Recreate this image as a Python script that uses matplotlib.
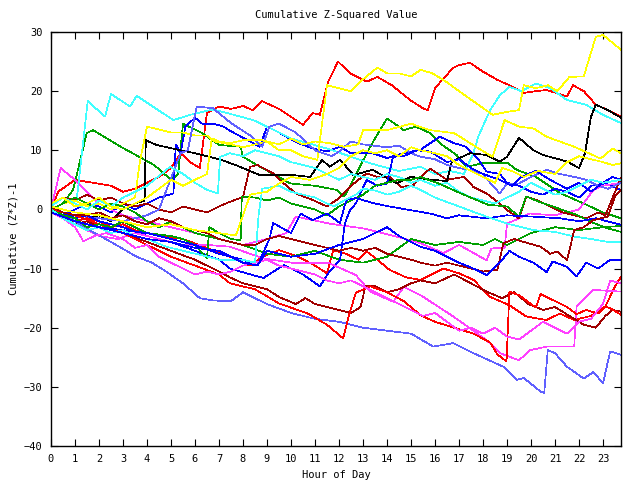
import numpy as np
import matplotlib
matplotlib.use("Agg")
from matplotlib import pyplot as plt

# each series: (hour, cumulative value) pairs
red1 = [(0,0),(0.3,3),(1,5),(1.75,4.5),(2.5,4),(3,3),(3.5,3.5),(4,4.5),(4.5,5.5),(5,7),(5.4,9.5),(5.8,8),
        (6.2,7),(6.5,16.3),(7,17.4),(7.5,17),(8,17.5),(8.4,16.8),(8.8,18.3),(9.5,17),(10.5,14.3),(10.9,16.3),
        (11.2,16),(11.55,21.6),(11.96,25),(12.46,23),(13.15,21.6),(13.6,22.4),(14.2,21),(14.96,18.5),(15.5,17.1),
        (15.7,16.8),(16,20.5),(16.3,21.9),(16.75,23.9),(17,24.4),(17.45,24.8),(18,23.3),(18.6,21.9),(19.1,21),
        (19.7,19.7),(20.2,20),(20.65,20.2),(21.5,19.1),(21.75,21),(22.2,20),(22.7,17.7),(23.1,17),(23.75,15.7)]
red2 = [(0,0.5),(0.5,-1),(1,-2),(1.5,-1.5),(2,-2),(2.5,-3),(3,-2.5),(3.5,-3.5),(4.5,-4.5),(5.5,-5),(6.5,-6.5),
        (7.46,-8),(8.3,-9.5),(8.8,-8),(9.5,-6.9),(10.3,-8),(11,-9.5),(11.5,-10.8),(11.76,-6.9),(12.3,-7.5),
        (12.8,-8.5),(13.15,-7.1),(13.6,-8.5),(14.1,-10.2),(14.8,-11.5),(15.4,-11.9),(16.35,-10),(17,-10.8),
        (17.6,-11.9),(18.3,-14.8),(19.1,-16.2),(19.8,-18.1),(20.65,-18.7),(21.2,-17.6),(21.8,-18.7),(22.5,-18),
        (23.1,-16.4),(23.5,-13),(23.75,-11.4)]
red3 = [(0,0),(1,-1),(2,-2.5),(3,-4),(4,-6),(5,-8),(6,-9.5),(7,-11),(7.46,-12.5),(8.5,-13.5),(9.5,-15.9),
        (10.7,-17.6),(11.5,-19.5),(12.17,-21.8),(12.4,-18.1),(12.7,-14.1),(13.3,-13),(14,-14),(14.7,-15.5),
        (15.4,-17.9),(16,-19),(16.8,-20),(17.6,-21),(18.3,-22.5),(18.6,-24.5),(18.98,-25.7),(19.1,-13.9),
        (19.5,-14.5),(20.2,-16.6),(20.4,-14.3),(20.9,-15.3),(21.5,-16.5),(21.9,-17.7),(22.3,-17),(22.8,-17.6),
        (23.1,-16.4),(23.3,-16.7),(23.75,-17.8)]
green1 = [(0,0),(0.5,1),(0.92,3.3),(1.49,12.9),(1.75,13.4),(2.9,10.6),(3.4,9.5),(4.3,7.5),(5,5),(5.3,6),
          (5.5,14.5),(6.3,12.9),(7,10.9),(7.9,10.6),(8,8.9),(8.8,7),(9.5,5.5),(9.96,4.4),(11,4),(11.9,3.3),
          (12.2,2.2),(12.3,2.7),(13.3,10.6),(14,15.4),(14.7,13.4),(15.2,14),(15.8,12.9),(16.3,10.9),(16.9,9.2),
          (17.3,7.2),(18,7.8),(19.05,7.8),(19.4,6.7),(20.2,5.5),(21.2,2.8),(22.3,0.8),(23,-0.5),(23.75,-1.5)]
green2 = [(0,0),(0.5,1),(1,2),(1.5,1),(2,0),(2.5,1),(3,0.5),(3.5,-0.5),(4,-2),(4.5,-3),(5,-2),(5.5,-3),(6,-4),
          (7,-5),(8,-6),(9,-7.5),(10,-8),(11,-7),(12,-8.5),(13,-9),(14,-8),(15,-5),(16,-6),(17,-5.5),(18,-6),
          (18.5,-5),(19,-6),(20,-4),(21,-3),(22,-3.5),(23,-3),(23.75,-2.8)]
green3 = [(0,0),(0.5,-1),(1,-1.5),(1.5,-3),(2,-2.5),(2.5,-3),(3,-2),(3.5,-3),(4,-4),(5,-4.5),(5.5,-5),(6,-6),
          (6.5,-8.3),(6.6,-3),(7,-4),(7.5,-5),(7.9,-5.2),(7.95,2.2),(8.5,2),(9,1.5),(9.5,2),(10,1),(10.5,0.5),
          (11,0),(11.5,-1),(12,0.5),(12.5,1.5),(13,2.5),(13.5,4),(14,4.5),(14.5,5),(15,5),(15.4,5.5),(16.2,4.3),
          (17.2,2.5),(18.2,0.8),(19,0.5),(19.5,-1.2),(19.8,2.2),(20.2,1.5),(20.9,0.5),(21.9,-0.9),(22.6,-2.3),
          (23.2,-3.2),(23.75,-3.8)]
blue1 = [(0,0),(0.5,-1),(1,0),(1.5,1),(2,0.5),(2.5,-0.5),(3,1),(3.5,0),(4,1),(4.5,2),(5.1,2.7),(5.2,11),
         (5.4,9.5),(5.6,14),(6,15.5),(6.3,14.5),(6.75,14.5),(7.2,14),(7.46,13.3),(8.7,10.6),(9,14),(9.5,13),
         (10.2,11.4),(10.9,10.3),(11.5,9.8),(12.05,10.6),(12.5,9.5),(13.4,9.5),(14,8.7),(14.7,9.5),(15.4,10.1),
         (16.2,12.3),(16.8,11.2),(17.3,10.6),(17.8,8.5),(18.15,6.4),(18.7,6),(19,4.5),(19.5,4),(20,3),(20.5,2.5),
         (21,3.5),(21.5,3),(22,2),(22.5,4),(23.1,4.4),(23.75,3.3)]
blue2 = [(0,0.5),(0.5,-0.5),(1,-1.5),(1.5,-1),(2,-2),(3,-3),(4,-4.5),(5,-5.5),(6,-7),(7,-8.5),(7.46,-10),
         (8.85,-11.6),(9.7,-9.4),(10.5,-11),(11.2,-13),(11.6,-10.5),(12.04,-8.6),(12.25,-2.3),(12.46,-0.1),
         (12.7,1),(13.15,5),(13.6,4),(14,4.4),(14.25,8.9),(14.7,9),(15.2,10),(15.8,9.8),(16.5,8),(17,8.5),
         (17.5,7),(18,6),(18.7,5),(19.2,4),(19.6,5.5),(20.2,6.5),(20.8,5),(21.5,3.5),(22,4.5),(22.5,3),
         (23,4.5),(23.4,5.5),(23.75,5)]
blue3 = [(0,-0.5),(1,-2),(2,-3),(3,-3.5),(4,-4),(5,-5),(6,-6),(7,-7.5),(8,-8.5),(8.6,-9.5),(9.1,-5),
         (9.26,-2.3),(10,-4),(10.4,-0.7),(10.9,-1.8),(11.5,-0.7),(12.04,-2.3),(12.3,1.6),(12.7,1.9),(13.5,1),
         (14.1,0.5),(15.8,-0.7),(16.5,-1.5),(17,-1),(18.15,-1.5),(19,-1),(20,-1.2),(21.2,-1.5),(22,-2),
         (22.7,-1.5),(23.75,-2.6)]
blue4 = [(0,-0.5),(1,-2),(2,-3),(3,-4),(4,-5),(5,-5.5),(6,-6.5),(7,-7),(7.5,-8),(8,-9),(8.6,-9.5),(9,-7),
         (10,-8),(11,-7.5),(12,-6),(13,-5),(13.5,-4),(14,-3),(14.5,-4.5),(15.4,-6.3),(16,-7),(16.5,-8),(17,-9),
         (17.6,-10),(18.15,-11.1),(18.7,-9),(19.1,-7),(19.5,-8),(20.1,-9),(20.65,-10.6),(20.9,-8.8),(21.5,-9.7),
         (21.9,-11.3),(22.3,-9),(22.8,-10),(23.3,-8.5),(23.75,-8.6)]
magenta1 = [(0,0),(0.4,7),(1,5),(1.5,3),(2,1),(3,-1),(4,-2),(5,-3),(6,-4),(7,-5),(8,-6),(9,-5),(9.8,-4),
            (10.2,-1.2),(11.6,-2.4),(13,-3.2),(14.4,-4.6),(15.4,-5.7),(16.35,-7.4),(17,-6),(18.15,-8.6),
            (18.35,-6.6),(18.9,-6.5),(19,-2.4),(19.95,-0.7),(21,-1),(22,0),(22.6,3.3),(23,4),(23.75,4.5)]
magenta2 = [(0,-0.5),(1,-2.5),(2,-4.5),(2.8,-5),(3.5,-4),(4.5,-5),(5.5,-6),(6.5,-6),(7.46,-6.3),(8.85,-8.3),
            (10.2,-9.1),(11.6,-9.1),(12.7,-11.1),(13.3,-13.9),(14.26,-15.6),(14.7,-13.1),(15.4,-14.5),
            (16.76,-18.1),(18.15,-22.1),(18.7,-24.3),(19.5,-25.5),(19.96,-23.8),(20.65,-23.2),(21.8,-23.2),
            (21.9,-16.4),(22.6,-13.6),(23.75,-13.9)]
magenta3 = [(0,0),(0.5,-1.5),(1,-3),(1.35,-5.4),(1.8,-4.5),(2.3,-4),(3,-5),(3.5,-6.5),(4,-6),(4.5,-8),(5,-9),
            (5.5,-10),(6,-11),(6.5,-10.5),(7,-11),(7.5,-10.5),(8,-9.5),(8.5,-9),(9,-8.5),(9.5,-9.5),(10,-10),
            (10.5,-10.5),(11,-11),(11.5,-12),(12,-12.5),(12.5,-12),(13,-13),(13.5,-14),(14,-15),(14.5,-16),
            (15,-17),(15.5,-18),(16,-17.5),(16.5,-19),(17,-20.5),(17.5,-20),(18,-21),(18.5,-20),(19,-21.5),
            (19.5,-22),(20,-20.5),(20.5,-19),(21,-20),(21.5,-21),(22,-19),(22.5,-18.5),(23,-16),(23.3,-12),
            (23.75,-12.5)]
cyan1 = [(0,0),(0.5,1),(1.07,1.6),(1.53,18.3),(2.25,15.7),(2.5,19.5),(3.3,17.4),(3.57,19.2),(5.1,15.1),
         (5.8,16),(6.75,16.9),(7.9,15.7),(8.5,15),(10,12),(11.5,10.3),(13.3,7.8),(14.5,6.5),(15.4,7.2),(16,6),
         (16.6,6.5),(17.2,6),(17.6,9.5),(17.8,12.3),(18.3,16.8),(18.7,19.3),(19.1,20.7),(19.6,20),(20.2,21.3),
         (20.8,20.5),(21.5,18.5),(22.3,17.7),(23,16),(23.75,14.6)]
cyan2 = [(0,0.5),(0.5,2),(1,1),(1.5,0),(2,1.5),(2.5,0.5),(3,2),(3.5,3),(4,4),(4.96,7.2),(5.5,6),(6,4.5),
         (6.5,3.3),(6.95,2.7),(7.05,8.9),(7.46,9.5),(8,9),(8.5,10),(9,9.5),(9.5,9),(10,8),(10.5,7.5),(11,7),
         (11.5,6),(12,5),(12.5,6),(13,5.5),(13.5,5),(14,6),(14.5,5.5),(15,4.5),(15.4,5),(16,4),(16.5,4.5),
         (17,3),(17.5,2),(18,1.5),(18.5,1),(19,2),(19.5,3),(20,4.5),(20.5,3.5),(21,2.5),(21.5,3),(22,4),
         (22.5,5),(23,4.5),(23.75,5)]
cyan3 = [(0,0),(0.5,-1.5),(1,-2.5),(1.5,-3.5),(2,-3),(2.5,-4),(3,-3.5),(3.5,-4.5),(4,-5),(4.8,-6.3),(5.5,-7),
         (6.55,-8),(7,-8.5),(7.5,-8.5),(8,-8.5),(8.5,-9),(8.65,-1),(8.8,3.5),(9.5,4),(10,3),(10.5,2.5),(11,2),
         (11.5,1),(11.8,0.5),(12.2,1.5),(12.7,2.5),(13,3.5),(13.5,3.2),(14,2.5),(14.5,3),(15,4),(15.4,3.3),
         (16,2),(17,0.5),(18,-1),(19,-2.4),(20.1,-3.5),(21,-3.8),(21.8,-4.6),(22.5,-5),(23.2,-5.5),(23.75,-5.5)]
darkred1 = [(0,1),(0.5,2),(1,1.5),(1.5,2.5),(2,1.5),(2.5,2),(3,1),(3.5,0.5),(4,1),(4.5,0),(5,-0.5),(5.5,0.5),
            (6,0),(6.5,-0.5),(7,0.5),(7.46,1.3),(8,2.1),(8.29,7.2),(8.6,7.5),(9.26,6.1),(9.7,4.4),(10.2,2.7),
            (10.9,1.6),(11.5,0.5),(11.9,1.6),(12.5,4),(13.15,6.1),(13.6,5.5),(14.1,5.5),(14.6,3.8),(15.1,4.1),
            (15.4,5.5),(15.8,6.9),(16.5,5),(17.2,5.5),(17.6,3.8),(18.15,2.7),(18.7,1),(19,-0.1),(19.5,-1.5),
            (19.8,2.2),(20.3,1.5),(20.8,0.5),(21.3,-0.5),(21.8,-1),(22.3,-1.5),(22.8,-0.5),(23.1,-1),(23.4,2),
            (23.75,5.3)]
darkred2 = [(0,0),(0.5,-1),(1,-2.5),(1.5,-2),(2,-3),(3,-4),(4,-5.5),(5,-7),(6,-8.5),(7,-10.5),(7.46,-11.5),
            (8,-12.5),(8.5,-13),(9,-13.5),(9.5,-14.8),(10.2,-16),(10.6,-15),(11,-16),(11.5,-16.5),(12,-17),
            (12.5,-17.5),(12.9,-16.5),(13.1,-13),(13.5,-13),(14,-14),(14.5,-13.5),(15,-12.5),(15.4,-12),
            (16,-12.5),(16.8,-11),(17.5,-12.5),(18.2,-14),(18.8,-15),(19.3,-14),(19.9,-16),(20.5,-17),(21,-16.5),
            (21.6,-18),(22.2,-19.5),(22.7,-20),(23.1,-18),(23.4,-17),(23.75,-17.3)]
darkred3 = [(0,0.5),(0.5,-0.5),(1,-1),(1.5,-1),(2,-0.5),(2.5,-1.5),(3,-1),(3.5,-2),(4,-2.5),(4.5,-1.5),(5,-2),
            (5.5,-3),(6,-3.5),(6.5,-4),(7,-5),(7.5,-5.5),(8,-6),(8.5,-6),(9,-5),(9.5,-4.5),(10,-5),(10.5,-5.5),
            (11,-6),(11.5,-6.5),(12,-7),(12.5,-6.5),(13,-7),(13.5,-6.5),(14,-7.5),(14.5,-8),(15,-8.5),(15.4,-9),
            (16,-9.5),(16.5,-9),(17,-9.5),(17.5,-10),(18,-10.5),(18.6,-10.2),(18.85,-5.7),(19.3,-5),(19.7,-5.5),
            (20.4,-6.3),(20.8,-7.5),(21.1,-7.1),(21.5,-8.6),(21.8,-3.5),(22.2,-3),(22.6,-1.8),(23.2,-1.2),
            (23.5,2.2),(23.75,3.3)]
yellow1 = [(0,0),(0.5,1),(1,1.5),(1.5,0.5),(2,1),(2.5,0),(3,1),(3.5,2),(3.7,8),(4,14),(4.5,13.5),(5,13),
           (5.5,13),(6,12.5),(6.5,12.5),(6.8,11.5),(7.5,11),(8,10.5),(8.5,11),(9,11.5),(9.5,10),(10,10),(10.5,9),
           (11.1,8.4),(11.5,21),(12,20.5),(12.5,20),(13,22),(13.6,24),(14,23),(14.5,23),(15,22.5),(15.4,23.6),
           (15.9,23),(16.5,21.5),(17,20),(17.7,18),(18.4,16),(19,16.5),(19.5,16.8),(19.7,21),(20.2,20.5),
           (20.7,21),(21.1,20),(21.6,22.4),(22.2,22.5),(22.7,29.2),(23,29.5),(23.75,27)]
yellow2 = [(0,1),(0.5,2),(1,0.5),(1.5,1),(2,2),(2.5,0.5),(3,0),(3.5,1),(4,2),(4.5,3.5),(5,5),(5.5,4),(6,5),
           (6.5,6),(6.7,12),(7,11.5),(7.46,11.2),(8,11.7),(8.8,11.7),(9.5,11),(10,12),(10.5,11),(11,11.5),
           (11.6,11.2),(12.2,10.6),(12.8,11),(13,13.4),(14,13.4),(15,14.5),(15.8,13.4),(16.8,12.9),(17.9,10.1),
           (18.4,8.9),(18.9,15.1),(19.5,14),(20.1,13.7),(20.65,12.3),(21.8,10.6),(22.9,8.6),(23.4,10.3),(23.75,9.5)]
yellow3 = [(0,0.5),(1,-0.5),(2,-1),(3,-2),(4,-3),(5,-2.5),(6,-3.5),(7,-4),(7.7,-4.4),(8,-1),(8.3,2.5),(9,3),
           (9.5,4.4),(10,5.5),(10.8,5),(11.5,6),(12,7),(12.5,9),(13,10),(13.5,9.5),(14,10),(14.5,9),(15,10.5),
           (15.4,10),(16,9.5),(16.5,9),(17,7.5),(17.5,6.5),(18,5.5),(18.5,4.5),(18.8,7),(19.2,6.5),(19.7,5.5),
           (20.3,6.5),(21,6),(21.5,8),(22,9),(22.5,8.5),(23,8),(23.4,7.5),(23.75,7.8)]
black1 = [(0,-0.5),(0.5,-1),(1,-2),(1.5,-1.5),(2,-1),(2.5,-2),(3,0),(3.5,1),(3.9,1.5),(3.95,11.7),(4.4,10.9),
          (5.4,10),(6,9.5),(7,8.5),(7.7,7.5),(8.7,5.8),(10.1,5.8),(10.8,5.5),(11.3,8.4),(11.6,7.2),(12.05,8.4),
          (12.6,5.8),(13.4,6.7),(14.4,4.4),(15,5.5),(15.9,5),(16.5,4.8),(16.7,8.1),(17.46,9.5),(18.15,9.2),
          (18.7,8.1),(19,8.9),(19.5,12.1),(20.1,10),(20.5,9.2),(21.5,8.1),(22,7),(22.25,9.5),(22.5,15.7),
          (22.7,17.7),(23.2,16.8),(23.75,15.5)]
violet1 = [(0,0),(1,-1),(2,-1.5),(3,-2),(4,-1),(4.5,0),(5.4,9.5),(5.7,10),(6.07,17.4),(6.75,17.1),(7.5,14.6),
           (8.3,12.5),(8.8,10.6),(9.1,14),(9.5,14.5),(10.2,13),(11,10),(11.7,9),(12,9.8),(12.5,11.5),(13,11),
           (14,10.5),(14.5,10.8),(15,9.5),(15.4,8.9),(16,8.5),(16.5,7.5),(17,7),(17.45,6.7),(18,6),(18.4,4),
           (18.7,2.7),(19,4.4),(19.5,4.4),(20,5.5),(20.65,6.7),(21.2,6),(21.8,5.5),(22.3,5),(22.8,4),(23.2,3.5),
           (23.75,4.5)]
violet2 = [(0,0),(0.5,-1),(1,-2),(1.6,-3.5),(2.5,-5.5),(3.57,-8),(4.2,-9),(4.8,-10.5),(5.5,-12.5),(6.2,-15),
           (6.76,-15.4),(7.5,-15.5),(8,-14),(9,-16),(10,-17.5),(11,-18.5),(12,-19),(13,-20),(14,-20.5),(15,-21),
           (15.93,-23.2),(16.76,-22.6),(17.6,-24.3),(18.85,-26.6),(19.4,-28.8),(19.7,-28.5),(20.4,-30.8),
           (20.55,-31),(20.7,-23.8),(21,-24.3),(21.5,-26.6),(22.2,-28.6),(22.6,-27.5),(23,-29.4),(23.3,-24),
           (23.75,-24.6)]

series = [
    (red1, "#ff0000"), (green1, "#00a000"), (blue1, "#0000ff"), (magenta1, "#ff40ff"),
    (cyan1, "#40ffff"), (darkred1, "#a00000"), (yellow1, "#ffff00"), (black1, "#000000"),
    (violet1, "#6060ff"),
    (red2, "#ff0000"), (green2, "#00a000"), (blue2, "#0000ff"), (magenta2, "#ff40ff"),
    (cyan2, "#40ffff"), (darkred2, "#a00000"), (yellow2, "#ffff00"), (violet2, "#6060ff"),
    (red3, "#ff0000"), (green3, "#00a000"), (blue3, "#0000ff"), (magenta3, "#ff40ff"),
    (cyan3, "#40ffff"), (darkred3, "#a00000"), (yellow3, "#ffff00"), (blue4, "#0000ff"),
]

plt.rcParams["font.family"] = ["DejaVu Sans Mono"]
fig = plt.figure(figsize=(6.4, 4.8), dpi=100)
ax = fig.add_axes([51/640, 34/480, 570/640, 414/480])

for pts, col in series:
    h = [p[0] for p in pts]
    v = [p[1] for p in pts]
    ax.plot(h, v, color=col, linewidth=0.5, antialiased=False)

ax.set_xlim(0, 23.75)
ax.set_ylim(-40, 30)
ax.set_xticks(range(0, 24))
ax.set_yticks(range(-40, 31, 10))
ax.tick_params(direction="in", length=5, width=0.8, top=True, right=True, labelsize=7.5, pad=6)
for s in ax.spines.values():
    s.set_linewidth(1)
ax.set_title("Cumulative Z-Squared Value", fontsize=7.5, pad=10)
ax.set_xlabel("Hour of Day", fontsize=7.5, labelpad=4)
ax.set_ylabel("Cumulative (Z*Z)-1", fontsize=7.5, labelpad=4)

fig.savefig("out.png", dpi=100)
